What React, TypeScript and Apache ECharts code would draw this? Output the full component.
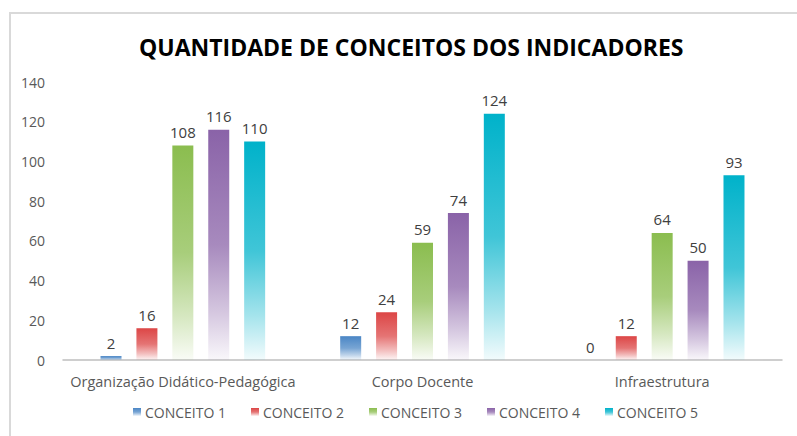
import React, { useEffect, useRef } from "react";
import * as echarts from "echarts";

const categories = ["Organização Didático-Pedagógica", "Corpo Docente", "Infraestrutura"];
const seriesNames = ["CONCEITO 1", "CONCEITO 2", "CONCEITO 3", "CONCEITO 4", "CONCEITO 5"];
const conceito1 = [2, 12, 0];
const conceito2 = [16, 24, 12];
const conceito3 = [108, 59, 64];
const conceito4 = [116, 74, 50];
const conceito5 = [110, 124, 93];
const colors = ["#4a86c5", "#dc4646", "#8bbd4f", "#8a63a8", "#00b2ca"];

function hexToRgba(hex: string, a: number) {
  const r = parseInt(hex.slice(1, 3), 16);
  const g = parseInt(hex.slice(3, 5), 16);
  const b = parseInt(hex.slice(5, 7), 16);
  return `rgba(${r},${g},${b},${a})`;
}

export default function App() {
  const ref = useRef<HTMLDivElement>(null);
  useEffect(() => {
    if (!ref.current) return;
    const chart = echarts.init(ref.current, null, { renderer: "svg" });
    const data = [conceito1, conceito2, conceito3, conceito4, conceito5];
    const font = "'Open Sans', 'Noto Sans', sans-serif";
    chart.setOption({
      animation: false,
      backgroundColor: "#ffffff",
      title: {
        text: "QUANTIDADE DE CONCEITOS DOS INDICADORES",
        left: 134,
        top: 30,
        textStyle: { fontFamily: font, fontSize: 23, fontWeight: "bold", color: "#000000" },
      },
      graphic: [
        { type: "line", shape: { x1: 9, y1: 13, x2: 797, y2: 13 }, style: { stroke: "#d9d9d9", lineWidth: 2 } },
        { type: "line", shape: { x1: 10, y1: 13, x2: 10, y2: 436 }, style: { stroke: "#d9d9d9", lineWidth: 2 } },
      ],
      legend: {
        data: seriesNames,
        bottom: 12,
        left: 128,
        icon: "rect",
        itemWidth: 8,
        itemHeight: 8,
        itemGap: 25,
        textStyle: { fontFamily: font, fontSize: 14, color: "#595959", padding: [0, 0, 0, -1] },
      },
      grid: { left: 63, right: 15, top: 82, bottom: 76 },
      xAxis: {
        type: "category",
        data: categories,
        axisTick: { show: false },
        axisLine: { lineStyle: { color: "#bfbfbf", width: 1.5 } },
        axisLabel: { interval: 0, fontFamily: font, fontSize: 14.5, color: "#595959", margin: 14 },
      },
      yAxis: {
        type: "value",
        min: 0,
        max: 140,
        interval: 20,
        splitLine: { show: false },
        axisLine: { show: false },
        axisTick: { show: false },
        axisLabel: { fontFamily: font, fontSize: 14, color: "#595959", margin: 18 },
      },
      series: seriesNames.map((name, i) => ({
        name,
        type: "bar",
        data: data[i],
        barWidth: 21,
        barGap: "71%",
        itemStyle: {
          color: new echarts.graphic.LinearGradient(0, 0, 0, 1, [
            { offset: 0, color: hexToRgba(colors[i], 1) },
            { offset: 0.5, color: hexToRgba(colors[i], 0.75) },
            { offset: 0.8, color: hexToRgba(colors[i], 0.35) },
            { offset: 1, color: hexToRgba(colors[i], 0.05) },
          ]),
        },
        label: {
          show: true,
          position: "top",
          distance: 6,
          fontFamily: font,
          fontSize: 15,
          color: "#404040",
        },
      })),
    });
    return () => chart.dispose();
  }, []);
  return <div ref={ref} style={{ width: 797, height: 436, position: "absolute", left: 0, top: 0 }} />;
}
